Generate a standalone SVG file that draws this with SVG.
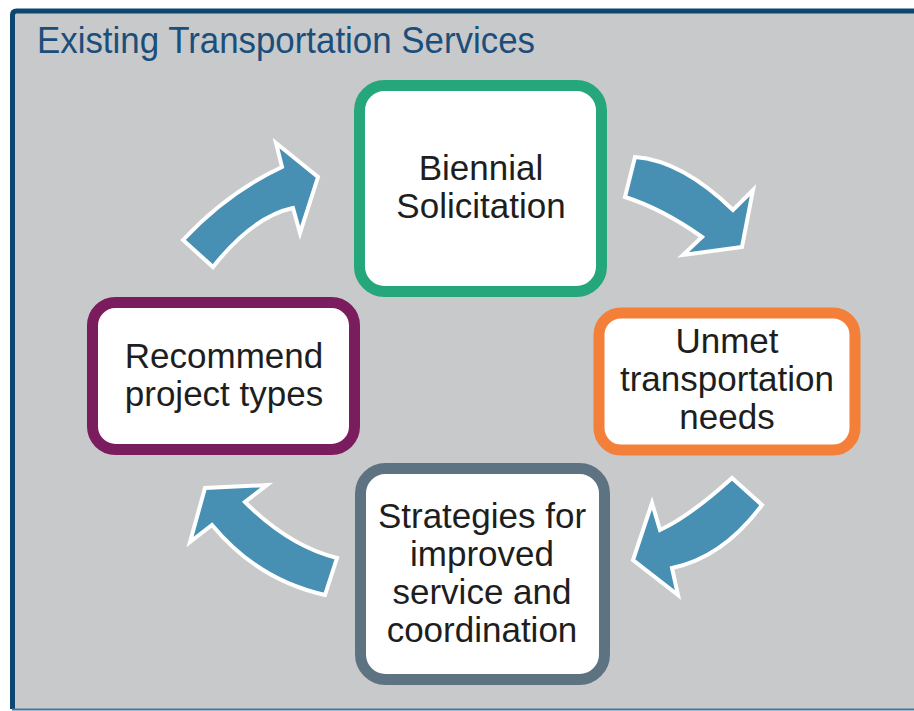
<svg xmlns="http://www.w3.org/2000/svg" width="914" height="711" viewBox="0 0 914 711">
<defs>
<style>
.lbl{font-family:"Liberation Sans",Arial,sans-serif;font-size:35px;fill:#1e1e1e;text-anchor:middle}
.box{fill:#ffffff;stroke-width:11}
.arr{fill:#4790b4;stroke:#ffffff;stroke-width:4;stroke-linejoin:miter}
</style>
</defs>
<rect x="0" y="0" width="914" height="711" fill="#ffffff"/>
<g id="panel">
<rect x="12.5" y="11" width="910" height="698" rx="4" fill="#c8c9cb"/>
<path d="M12.5,709 L12.5,15 Q12.5,11 16.5,11 L914,11" fill="none" stroke="#0d4670" stroke-width="5"/>
<line x1="12" y1="709.5" x2="914" y2="709.5" stroke="#3f78a6" stroke-width="2"/>
<text x="37" y="53" font-family="'Liberation Sans',Arial,sans-serif" font-size="36" fill="#1b4e7a" textLength="498" lengthAdjust="spacingAndGlyphs">Existing Transportation Services</text>
</g>
<g id="connectors">
<path class="arr" d="M183,240 Q227.5,192.5 282,167 L276,143 L318,177 L300,233 L293,208 Q253,216.5 213,267 Z"/>
<path class="arr" d="M635,157 Q682,160.5 733,210 L753,190 L742,247 L683,255 L702,237 Q662.5,209 625,197 Z"/>
<path class="arr" d="M732,478 Q690,516 660,530 L652,503 L633,560 L678,595 L672,568 Q723,557.5 762,505 Z"/>
<path class="arr" d="M337,558 Q289,546 245,502 L267,485 L205,488 L190,542 L212,525 Q257.5,580 325,595 Z"/>
</g>
<g id="biennial">
<rect class="box" x="359.5" y="85.5" width="242" height="206" rx="25" stroke="#25a67b"/>
<text class="lbl" x="481" y="180">Biennial</text>
<text class="lbl" x="481" y="218">Solicitation</text>
</g>
<g id="unmet">
<rect class="box" x="599" y="313" width="256" height="137" rx="22" stroke="#f37f38" stroke-width="10"/>
<text class="lbl" x="727" y="353">Unmet</text>
<text class="lbl" x="727" y="391">transportation</text>
<text class="lbl" x="727" y="429">needs</text>
</g>
<g id="strategies">
<rect class="box" x="360.5" y="468.5" width="244" height="211" rx="25" stroke="#5e7382"/>
<text class="lbl" x="482" y="528">Strategies for</text>
<text class="lbl" x="482" y="566">improved</text>
<text class="lbl" x="482" y="604">service and</text>
<text class="lbl" x="482" y="642">coordination</text>
</g>
<g id="recommend">
<rect class="box" x="92.5" y="302.5" width="262" height="147" rx="23" stroke="#7b1c5e" stroke-width="10"/>
<text class="lbl" x="224" y="368">Recommend</text>
<text class="lbl" x="224" y="406">project types</text>
</g>
</svg>
